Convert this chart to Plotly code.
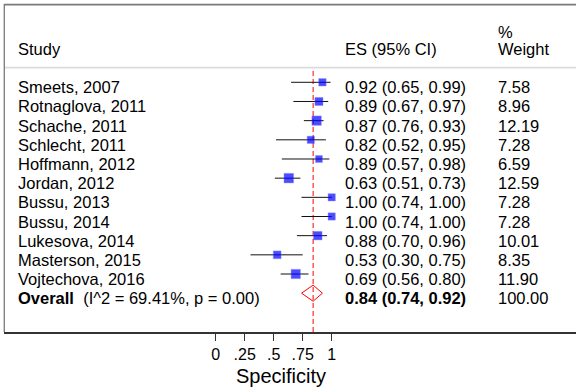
import plotly.graph_objects as go
import math

studies = ["Smeets, 2007", "Rotnaglova, 2011", "Schache, 2011", "Schlecht, 2011",
           "Hoffmann, 2012", "Jordan, 2012", "Bussu, 2013", "Bussu, 2014",
           "Lukesova, 2014", "Masterson, 2015", "Vojtechova, 2016"]
es = [0.92, 0.89, 0.87, 0.82, 0.89, 0.63, 1.00, 1.00, 0.88, 0.53, 0.69]
lo = [0.65, 0.67, 0.76, 0.52, 0.57, 0.51, 0.74, 0.74, 0.70, 0.30, 0.56]
hi = [0.99, 0.97, 0.93, 0.95, 0.98, 0.73, 1.00, 1.00, 0.96, 0.75, 0.80]
weights = [7.58, 8.96, 12.19, 7.28, 6.59, 12.59, 7.28, 7.28, 10.01, 8.35, 11.90]

overall_es, overall_lo, overall_hi = 0.84, 0.74, 0.92
overall_weight = 100.00
i2, pval = 69.41, 0.00

tick_vals = [0, 0.25, 0.5, 0.75, 1]
tick_text = ["0", ".25", ".5", ".75", "1"]
x_title = "Specificity"

FONT = "Liberation Sans, Arial, sans-serif"
FS = 16.5

rows = list(range(len(studies)))
overall_row = len(studies)

fig = go.Figure()

# CI lines + boxes
fig.add_trace(go.Scatter(
    x=es, y=rows, mode="markers",
    marker=dict(symbol="square", color="#0000ff",
                size=[2.7 * math.sqrt(w) for w in weights],
                line=dict(color="rgba(90,90,255,0.55)", width=0.8)),
    error_x=dict(type="data", symmetric=False,
                 array=[h - e for h, e in zip(hi, es)],
                 arrayminus=[e - l for e, l in zip(es, lo)],
                 color="#111111", thickness=1, width=0),
    showlegend=False, hoverinfo="skip"))

# Overall diamond
dh = 0.42
fig.add_trace(go.Scatter(
    x=[overall_lo, overall_es, overall_hi, overall_es, overall_lo],
    y=[overall_row, overall_row - dh, overall_row, overall_row + dh, overall_row],
    mode="lines", line=dict(color="#ff0000", width=1),
    showlegend=False, hoverinfo="skip"))

sep_y = 1 - (67.7 - 4) / 328

shapes = [
    # dashed overall line
    dict(type="line", xref="x", yref="paper", x0=overall_es, x1=overall_es,
         y0=0, y1=sep_y - 0.003, line=dict(color="#ff0000", width=1, dash="5px,3px"),
         layer="below"),
    # header separator
    dict(type="line", xref="paper", yref="paper", x0=0, x1=1, y0=sep_y, y1=sep_y,
         line=dict(color="#dcdcdc", width=1.8)),
    # top border
    dict(type="line", xref="paper", yref="paper", x0=0, x1=1, y0=0.998, y1=0.998,
         line=dict(color="#7a7a7a", width=1.6)),
    # left border
    dict(type="line", xref="paper", yref="paper", x0=0.0005, x1=0.0005, y0=0, y1=1,
         line=dict(color="#7a7a7a", width=1.3)),
]

annotations = []
col_study = (16 - 4) / 572
col_es = (342.7 - 4) / 572
col_w = (496 - 4) / 572

def txt(x, y, text, yref="y", yshift=0, size=FS, xanchor="left"):
    annotations.append(dict(x=x, y=y, xref="paper", yref=yref, text=text,
                            showarrow=False, xanchor=xanchor, yanchor="middle",
                            yshift=yshift, font=dict(family=FONT, size=size, color="#000")))

# headers
hy = 1 - (49 - 4) / 328
txt(col_study, hy, "Study", yref="paper")
txt(col_es, hy, "ES (95% CI)", yref="paper")
txt(col_w, hy, "Weight", yref="paper")
txt(col_w, 1 - (31.7 - 4) / 328, "%", yref="paper")

for i, s in enumerate(studies):
    txt(col_study, i, s, yshift=-5)
    txt(col_es, i, f"{es[i]:.2f} ({lo[i]:.2f}, {hi[i]:.2f})", yshift=-5)
    txt(col_w, i, f"{weights[i]:.2f}", yshift=-5)

txt(col_study, overall_row,
    f"<b>Overall</b>\u00a0\u00a0(I^2 = {i2:.2f}%, p = {pval:.2f})", yshift=-5)
txt(col_es, overall_row,
    f"<b>{overall_es:.2f} ({overall_lo:.2f}, {overall_hi:.2f})</b>", yshift=-5)
txt(col_w, overall_row, f"{overall_weight:.2f}", yshift=-5)

# axis title
annotations.append(dict(x=(280.5 - 4) / 572, y=-(376 - 332) / 328, xref="paper", yref="paper",
                        text=x_title, showarrow=False, xanchor="center", yanchor="middle",
                        font=dict(family=FONT, size=20, color="#000")))

x0px = 215.7
ppu = 116.0
fig.update_layout(
    width=576, height=388,
    margin=dict(l=4, r=0, t=4, b=56),
    paper_bgcolor="white", plot_bgcolor="white",
    shapes=shapes, annotations=annotations,
    xaxis=dict(range=[-(x0px - 4) / ppu, (576 - x0px) / ppu],
               tickvals=tick_vals, ticktext=tick_text,
               ticks="outside", ticklen=7, tickwidth=1.3, tickcolor="#333",
               showline=True, linecolor="#333", linewidth=1.7,
               showgrid=False, zeroline=False, fixedrange=True,
               tickfont=dict(family=FONT, size=16, color="#000")),
    yaxis=dict(range=[13.025, -4.085], visible=False, showgrid=False, zeroline=False,
               fixedrange=True),
    font=dict(family=FONT),
    hovermode=False,
)

fig.write_html("out.html", config={"displayModeBar": False},
               post_script="document.body.style.margin='0px';")
